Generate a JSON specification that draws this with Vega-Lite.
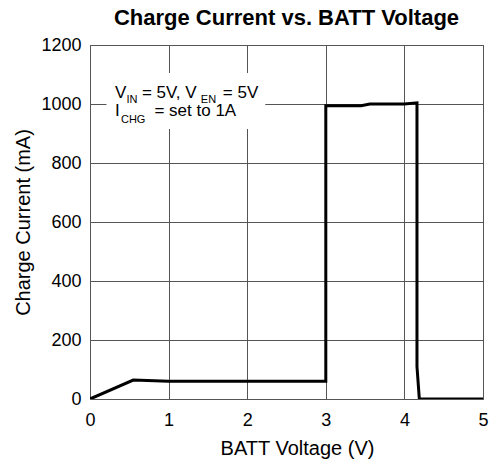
{
  "$schema": "https://vega.github.io/schema/vega-lite/v6.json",
  "autosize": "none",
  "padding": {"left": 90, "top": 45, "right": 10, "bottom": 70},
  "width": 393,
  "height": 354,
  "background": "white",
  "title": {"text": "Charge Current vs. BATT Voltage", "font": "Liberation Sans", "fontSize": 22, "fontWeight": "bold", "color": "black", "offset": 6},
  "config": {
    "font": "Liberation Sans",
    "view": {"stroke": "#555555", "strokeWidth": 1},
    "axis": {"gridColor": "#555555", "gridOpacity": 1, "gridWidth": 1, "domain": false, "ticks": false, "labelFlush": false, "labelFont": "Liberation Sans", "labelFontSize": 18, "labelColor": "black", "titleFont": "Liberation Sans", "titleFontSize": 20, "titleFontWeight": "normal", "titleColor": "black", "format": "d"}
  },
  "datasets": {
    "curve": [
      {"v": 0, "i": 0},
      {"v": 0.55, "i": 64},
      {"v": 1.0, "i": 60},
      {"v": 3.0, "i": 60},
      {"v": 3.0, "i": 994},
      {"v": 3.45, "i": 994},
      {"v": 3.56, "i": 1000},
      {"v": 4.0, "i": 1000},
      {"v": 4.16, "i": 1004},
      {"v": 4.16, "i": 110},
      {"v": 4.19, "i": 0},
      {"v": 5.0, "i": 0}
    ],
    "box": [{"x1": 0.21, "x2": 2.23, "y1": 915, "y2": 1105}],
    "big": [
      {"x": 0.318, "y": 1019, "t": "V"},
      {"x": 0.66, "y": 1019, "t": "= 5V, V"},
      {"x": 1.69, "y": 1019, "t": "= 5V"},
      {"x": 0.318, "y": 960, "t": "I"},
      {"x": 0.82, "y": 960, "t": "= set to 1A"}
    ],
    "small": [
      {"x": 0.465, "y": 1003, "t": "IN"},
      {"x": 1.41, "y": 1003, "t": "EN"},
      {"x": 0.394, "y": 935, "t": "CHG"}
    ]
  },
  "layer": [
    {
      "data": {"name": "curve"},
      "mark": {"type": "line", "color": "black", "strokeWidth": 3, "strokeJoin": "miter", "clip": true},
      "encoding": {
        "x": {"field": "v", "type": "quantitative", "scale": {"domain": [0, 5], "nice": false}, "axis": {"values": [0, 1, 2, 3, 4, 5], "title": "BATT Voltage (V)", "labelPadding": 12, "titlePadding": 9, "titleX": 207}},
        "y": {"field": "i", "type": "quantitative", "scale": {"domain": [0, 1200], "nice": false}, "axis": {"values": [0, 200, 400, 600, 800, 1000, 1200], "title": "Charge Current (mA)", "labelPadding": 9, "titlePadding": 7}},
        "order": {"value": 0}
      }
    },
    {
      "data": {"name": "box"},
      "mark": {"type": "rect", "color": "white"},
      "encoding": {
        "x": {"field": "x1", "type": "quantitative"},
        "x2": {"field": "x2"},
        "y": {"field": "y1", "type": "quantitative"},
        "y2": {"field": "y2"}
      }
    },
    {
      "data": {"name": "big"},
      "mark": {"type": "text", "align": "left", "baseline": "alphabetic", "fontSize": 17, "color": "black", "font": "Liberation Sans"},
      "encoding": {
        "x": {"field": "x", "type": "quantitative"},
        "y": {"field": "y", "type": "quantitative"},
        "text": {"field": "t"}
      }
    },
    {
      "data": {"name": "small"},
      "mark": {"type": "text", "align": "left", "baseline": "alphabetic", "fontSize": 11, "color": "black", "font": "Liberation Sans"},
      "encoding": {
        "x": {"field": "x", "type": "quantitative"},
        "y": {"field": "y", "type": "quantitative"},
        "text": {"field": "t"}
      }
    }
  ]
}
